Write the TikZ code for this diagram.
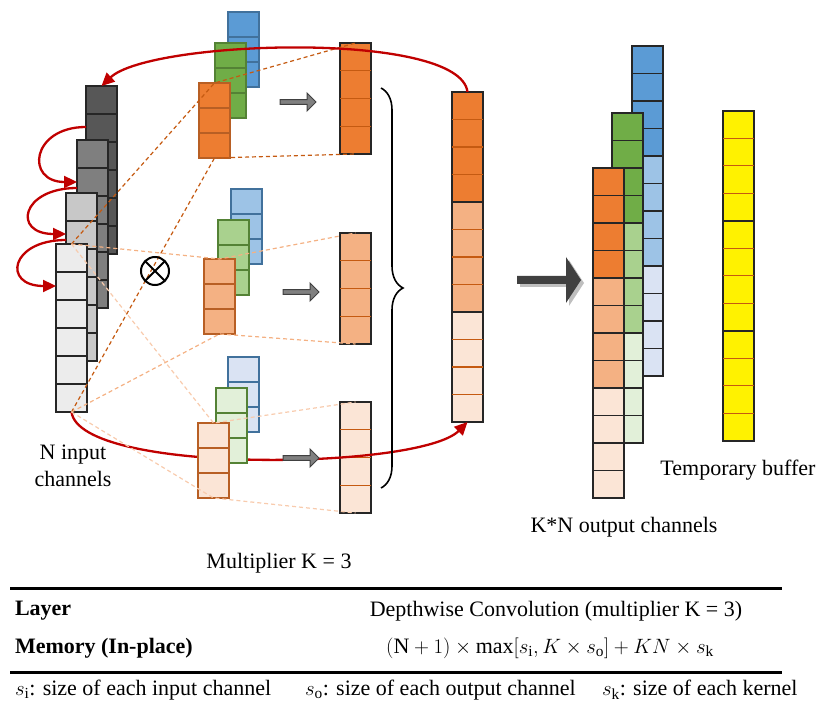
\documentclass[tikz,border=0pt]{standalone}
\usepackage{fontspec}
\setmainfont{Liberation Serif}
\usepackage{amsmath}
\usepackage{tikz}
\usepackage{xcolor}
\usetikzlibrary{calc,arrows.meta,decorations.pathreplacing}

\definecolor{gray1}{HTML}{575757}
\definecolor{gray2}{HTML}{7F7F7F}
\definecolor{gray3}{HTML}{C8C8C8}
\definecolor{gray4}{HTML}{ECECEC}
\definecolor{blueA}{HTML}{5B9BD5}
\definecolor{blueB}{HTML}{9DC3E6}
\definecolor{blueC}{HTML}{DAE3F3}
\definecolor{blueD}{HTML}{41719C}
\definecolor{greenA}{HTML}{70AD47}
\definecolor{greenB}{HTML}{A9D18E}
\definecolor{greenC}{HTML}{E2F0D9}
\definecolor{greenD}{HTML}{548235}
\definecolor{orangeA}{HTML}{ED7D31}
\definecolor{orangeB}{HTML}{F4B183}
\definecolor{orangeC}{HTML}{FBE5D6}
\definecolor{orangeD}{HTML}{B85F24}
\definecolor{lineO}{HTML}{C55A11}
\definecolor{arcred}{HTML}{C00000}
\definecolor{dashB}{HTML}{F4B183}
\definecolor{dashC}{HTML}{F8CBAD}

\begin{document}
\begin{tikzpicture}[x=1pt,y=-1pt]
        \tikzstyle{every node}=[inner sep=0pt, outer sep=0pt, font=\fontsize{22}{27}\selectfont]
        \tikzstyle{chan}=[draw=black!85, line width=1.2pt, minimum width=31pt, minimum height=168pt, anchor=north west]
        \tikzstyle{kern}=[line width=1.2pt, minimum width=31pt, minimum height=75pt, anchor=north west]
        \tikzstyle{outc}=[draw=black!85, line width=1.2pt, minimum width=31pt, minimum height=111pt, anchor=north west]
        \tikzstyle{quad}=[draw=black!85, line width=1.2pt, minimum width=31pt, minimum height=110pt, anchor=north west]
        \tikzstyle{redarc}=[draw=arcred, line width=2.3pt, -{Triangle[length=13pt,width=12pt]}]
        \tikzstyle{guideA}=[draw=lineO, line width=1.2pt, dash pattern=on 4pt off 3pt]
        \tikzstyle{guideB}=[draw=dashB, line width=1.2pt, dash pattern=on 4pt off 3pt]
        \tikzstyle{guideC}=[draw=dashC, line width=1.2pt, dash pattern=on 4pt off 3pt]
        \tikzset{grayarrow/.pic={
            \filldraw[fill=black!50, draw=black!75, line width=1pt] (0,-2.3) -- (27,-2.3) -- (27,-9) -- (36,0) -- (27,9) -- (27,2.3) -- (0,2.3) -- cycle;}}

            \useasboundingbox (0,0) rectangle (830,708);

            \foreach \n/\x/\y/\f in {in1/86/86/gray1, in2/77/140/gray2, in3/66/193/gray3, in4/56/244/gray4}{
                \node[chan, fill=\f] (\n) at (\x,\y) {};
                \foreach \k in {1,...,5}
                    \draw[line width=1.2pt, black!85] ($(\n.north west)!\k/6!(\n.south west)$) -- ($(\n.north east)!\k/6!(\n.south east)$);
            }

            \draw[redarc] ($(in1.north west)+(0,41)$) .. controls +(-55,0) and +(-52,0) .. ($(in2.north west)+(0,42)$);
            \draw[redarc] ($(in2.north west)+(0,48)$) .. controls +(-56,0) and +(-54,0) .. ($(in3.north west)+(0,41)$);
            \draw[redarc] ($(in3.north west)+(0,47)$) .. controls +(-56,0) and +(-54,0) .. ($(in4.north west)+(0,42)$);

            \foreach \n/\y/\f in {o1/43/orangeA, o2/233/orangeB, o3/402/orangeC}{
                \node[outc, fill=\f] (\n) at (340,\y) {};
                \foreach \k in {1,2,3}
                    \draw[line width=1.2pt, lineO] ($(\n.north west)!\k/4!(\n.south west)$) -- ($(\n.north east)!\k/4!(\n.south east)$);
            }

            \foreach \n/\y/\f in {cat1/92/orangeA, cat2/202/orangeB, cat3/312/orangeC}{
                \node[quad, fill=\f] (\n) at (452,\y) {};
                \foreach \k in {1,2,3}
                    \draw[line width=1.2pt, lineO] ($(\n.north west)!\k/4!(\n.south west)$) -- ($(\n.north east)!\k/4!(\n.south east)$);
            }

            \draw[redarc] (in4.south) .. controls (80,475) and (420,470) .. (cat3.south);

            \foreach \n/\x/\y/\f/\d in {k1b/228/12/blueA/blueD, k1g/215/43/greenA/greenD, k1o/199/83/orangeA/orangeD,
                                       k2b/231/189/blueB/blueD, k2g/218/220/greenB/greenD, k2o/204/259/orangeB/orangeD,
                                       k3b/228/357/blueC/blueD, k3g/216/388/greenC/greenD, k3o/198/423/orangeC/orangeD}{
                \node[kern, fill=\f, draw=\d] (\n) at (\x,\y) {};
                \foreach \k in {1,2}
                    \draw[line width=1.2pt, \d] ($(\n.north west)!\k/3!(\n.south west)$) -- ($(\n.north east)!\k/3!(\n.south east)$);
            }

            \foreach \k/\o/\s in {k1o/o1/guideA, k2o/o2/guideB, k3o/o3/guideC}{
                \draw[\s] (in4.north) -- (\k.north) -- (\o.north);
                \draw[\s] (in4.south) -- (\k.south) -- (\o.south);
            }

            \draw[redarc] (cat1.north) .. controls (460,30) and (150,40) .. (in1.north);

            \pic at (280,102) {grayarrow};
            \pic at (283,292) {grayarrow};
            \pic at (283,458) {grayarrow};

            \node[draw, circle, line width=2pt, minimum size=28pt] (conv) at (155,271) {};
            \draw[line width=2pt] (conv.north west) -- (conv.south east) (conv.north east) -- (conv.south west);

            \draw[decorate, decoration={brace, amplitude=22pt}, line width=1.6pt] (381,88) -- (381,488);

            \fill[black!25] (520,279) -- (569,279) -- (569,260) -- (584,283) -- (569,306) -- (569,287) -- (520,287) -- cycle;
            \fill[black!75] (517,276) -- (566,276) -- (566,257) -- (581,280) -- (566,303) -- (566,284) -- (517,284) -- cycle;

            \foreach \n/\x/\y/\f in {rb1/632/46/blueA, rb2/632/156/blueB, rb3/632/266/blueC,
                                    rg1/612/113/greenA, rg2/612/223/greenB, rg3/612/333/greenC,
                                    ro1/593/168/orangeA, ro2/593/278/orangeB, ro3/593/388/orangeC}{
                \node[quad, fill=\f] (\n) at (\x,\y) {};
                \foreach \k in {1,2,3}
                    \draw[line width=1.2pt, black!85] ($(\n.north west)!\k/4!(\n.south west)$) -- ($(\n.north east)!\k/4!(\n.south east)$);
            }

            \foreach \n/\y in {yb1/111, yb2/221, yb3/331}{
                \node[quad, fill=yellow] (\n) at (723,\y) {};
                \foreach \k in {1,2,3}
                    \draw[line width=1pt, lineO] ($(\n.north west)!\k/4!(\n.south west)$) -- ($(\n.north east)!\k/4!(\n.south east)$);
            }

            \node[align=center] (inlbl) at (73,466) {N input\\channels};
            \node (mullbl) at (279,563) {Multiplier K = 3};
            \node (outlbl) at (624,527) {K*N output channels};
            \node (buflbl) at (738,470) {Temporary buffer};

            \draw[line width=3pt] (10,588) -- (782,588);
            \node[anchor=west] (lay) at (15,611) {\bfseries Layer};
            \node[anchor=west] (mem) at (15,648) {\bfseries Memory (In-place)};
            \node (dwc) at (556,611) {Depthwise Convolution (multiplier K = 3)};
            \node (fml) at (550,648) {$(\mathrm{N}+1)\times\max[s_\mathrm{i},K\times s_\mathrm{o}]+KN\times s_\mathrm{k}$};
            \draw[line width=3pt] (10,672) -- (782,672);
            \node[anchor=west] (capi) at (15,690) {$s_\mathrm{i}$: size of each input channel};
            \node[anchor=west] (capo) at (305,690) {$s_\mathrm{o}$: size of each output channel};
            \node[anchor=west] (capk) at (602,690) {$s_\mathrm{k}$: size of each kernel};

        \end{tikzpicture}
\end{document}
